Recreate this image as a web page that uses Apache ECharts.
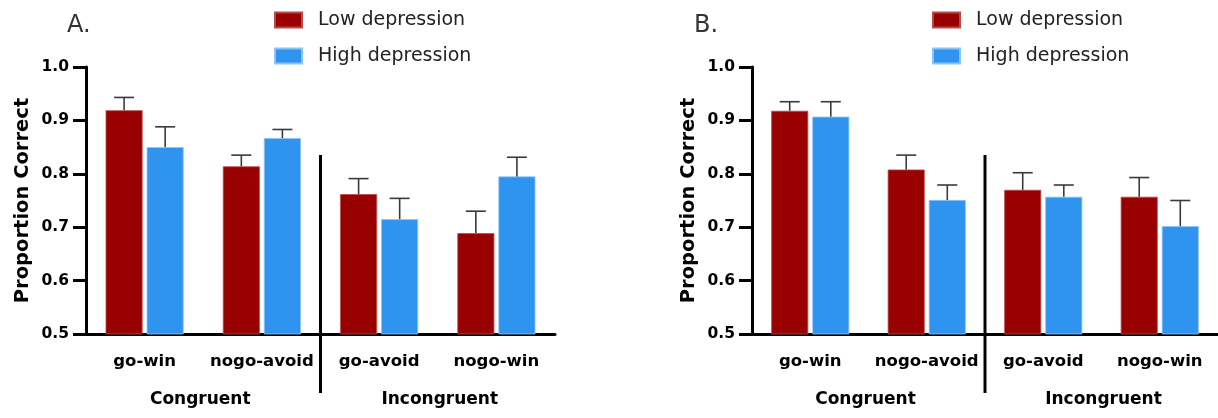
<!DOCTYPE html>
<html><head><meta charset="utf-8">
<script src="https://cdn.jsdelivr.net/npm/echarts@6/dist/echarts.min.js"></script>
<style>html,body{margin:0;padding:0;background:#fff}#c{width:1218px;height:418px}</style>
</head><body><div id="c"></div>
<script>
// ---- data ----
const categories = ['go-win', 'nogo-avoid', 'go-avoid', 'nogo-win'];
const groupLabels = ['Congruent', 'Incongruent'];
const seriesNames = ['Low depression', 'High depression'];
const panelTitles = ['A.', 'B.'];
const yMin = 0.5, yMax = 1.0, yStep = 0.1;
const yAxisName = 'Proportion Correct';

const lowA = [0.919, 0.814, 0.762, 0.689];
const lowAUpper = [0.943, 0.835, 0.791, 0.730];
const highA = [0.850, 0.867, 0.715, 0.795];
const highAUpper = [0.888, 0.883, 0.754, 0.831];

const lowB = [0.918, 0.808, 0.770, 0.757];
const lowBUpper = [0.935, 0.835, 0.802, 0.793];
const highB = [0.907, 0.751, 0.757, 0.702];
const highBUpper = [0.935, 0.779, 0.779, 0.750];

// ---- style ----
const FONT = '"DejaVu Sans", "Liberation Sans", Arial, sans-serif';
const RED = '#990000', BLUE = '#2f93f0';
const BAR_W = 37, GAP = 0.11;
const OFF = BAR_W * (1 + GAP) / 2;

const chart = echarts.init(document.getElementById('c'), null, {renderer: 'canvas'});

const panels = [
  {low: lowA, lowU: lowAUpper, high: highA, highU: highAUpper, grid: {left: 86, top: 67, width: 469, height: 267}, title: {left: 67, top: 14}, legend: {left: 274, top: 9}},
  {low: lowB, lowU: lowBUpper, high: highB, highU: highBUpper, grid: {left: 752, top: 67, width: 471, height: 267}, title: {left: 694, top: 14}, legend: {left: 932, top: 9}}
];

function errSeries(idx, means, uppers, offset) {
  return {
    type: 'custom', xAxisIndex: idx, yAxisIndex: idx, z: 5, silent: true,
    data: means.map((m, i) => [i, m, uppers[i]]),
    encode: {x: 0, y: [1, 2]},
    renderItem: function (params, api) {
      const p0 = api.coord([api.value(0), api.value(1)]);
      const p1 = api.coord([api.value(0), api.value(2)]);
      const cx = p0[0] + offset;
      const st = {stroke: '#3a3a3a', lineWidth: 1.6};
      return {type: 'group', children: [
        {type: 'line', shape: {x1: cx, y1: p0[1], x2: cx, y2: p1[1]}, style: st},
        {type: 'line', shape: {x1: cx - 10, y1: p1[1], x2: cx + 10, y2: p1[1]}, style: st}
      ]};
    }
  };
}

const option = {
  animation: false,
  backgroundColor: '#fff',
  title: panels.map((p, i) => ({text: panelTitles[i], left: p.title.left, top: p.title.top, padding: 0,
    textStyle: {fontFamily: FONT, fontWeight: 'normal', fontSize: 24, color: '#333'}})),
  legend: panels.map((p) => ({
    data: seriesNames, orient: 'vertical', left: p.legend.left, top: p.legend.top, padding: 0,
    itemWidth: 27, itemHeight: 15, itemGap: 14, icon: 'rect',
    textStyle: {fontFamily: FONT, fontSize: 19, color: '#222', padding: [0, 0, 0, 11], lineHeight: 22}
  })),
  grid: panels.map(p => Object.assign({containLabel: false}, p.grid)),
  xAxis: panels.map((p, i) => ({
    type: 'category', gridIndex: i, data: categories,
    axisLine: {lineStyle: {color: '#000', width: 3}},
    axisTick: {alignWithLabel: true, length: 13, lineStyle: {color: '#000', width: 3}},
    axisLabel: {interval: 0, margin: 19, fontFamily: FONT, fontWeight: 'bold', fontSize: 16.5, color: '#000'}
  })),
  yAxis: panels.map((p, i) => ({
    type: 'value', gridIndex: i, min: yMin, max: yMax, interval: yStep,
    name: yAxisName, nameLocation: 'middle', nameGap: 53, nameRotate: 90,
    nameTextStyle: {fontFamily: FONT, fontWeight: 'bold', fontSize: 19.5, color: '#000'},
    axisLine: {show: true, lineStyle: {color: '#000', width: 3}},
    axisTick: {show: true, length: 13, lineStyle: {color: '#000', width: 3}},
    splitLine: {show: false},
    axisLabel: {margin: 17, fontFamily: FONT, fontWeight: 'bold', fontSize: 15.5, color: '#000',
      formatter: v => v.toFixed(1)}
  })),
  series: []
};

panels.forEach((p, i) => {
  option.series.push({name: seriesNames[0], type: 'bar', xAxisIndex: i, yAxisIndex: i, data: p.low,
    barWidth: BAR_W, barGap: (GAP * 100) + '%', itemStyle: {color: RED, borderColor: '#b84a4a', borderWidth: 0.8}});
  option.series.push({name: seriesNames[1], type: 'bar', xAxisIndex: i, yAxisIndex: i, data: p.high,
    barWidth: BAR_W, barGap: (GAP * 100) + '%', itemStyle: {color: BLUE, borderColor: '#8cc4f7', borderWidth: 0.8}});
  option.series.push(errSeries(i, p.low, p.lowU, -OFF));
  option.series.push(errSeries(i, p.high, p.highU, OFF));
});

chart.setOption(option);

// dividers and group labels positioned from the axes
const graphics = [];
panels.forEach((p, i) => {
  const xs = categories.map((c, k) => chart.convertToPixel({xAxisIndex: i}, k));
  const divX = (xs[1] + xs[2]) / 2;
  graphics.push({type: 'line', shape: {x1: divX, y1: 155, x2: divX, y2: 393}, style: {stroke: '#000', lineWidth: 3}, z: 10});
  graphics.push({type: 'text', x: (xs[0] + xs[1]) / 2 - 3, y: 400,
    style: {text: groupLabels[0], font: 'bold 17px ' + FONT, fill: '#000', align: 'center', verticalAlign: 'middle'}});
  graphics.push({type: 'text', x: (xs[2] + xs[3]) / 2 + 2, y: 400,
    style: {text: groupLabels[1], font: 'bold 17px ' + FONT, fill: '#000', align: 'center', verticalAlign: 'middle'}});
});
chart.setOption({graphic: graphics});
</script>
</body></html>
